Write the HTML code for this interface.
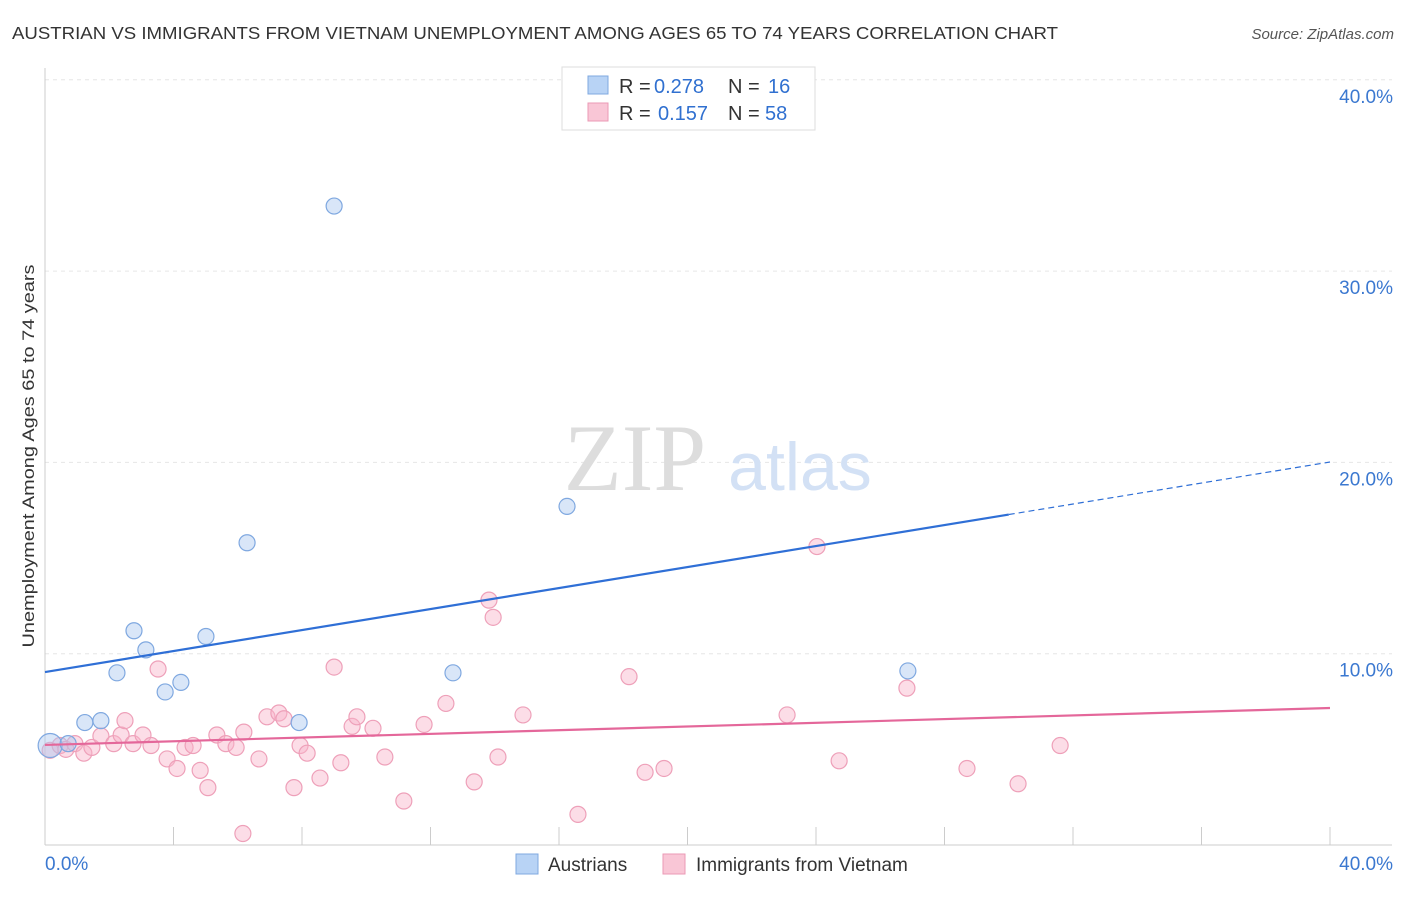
<!DOCTYPE html>
<html><head><meta charset="utf-8"><style>
body{margin:0;background:#fff;font-family:"Liberation Sans",sans-serif;}
</style></head><body>
<svg width="1406" height="892" xmlns="http://www.w3.org/2000/svg">
<text x="12" y="39" font-size="17.5" fill="#333" textLength="1046" lengthAdjust="spacingAndGlyphs">AUSTRIAN VS IMMIGRANTS FROM VIETNAM UNEMPLOYMENT AMONG AGES 65 TO 74 YEARS CORRELATION CHART</text>
<text x="1394" y="39" font-size="15" fill="#555" font-style="italic" text-anchor="end">Source: ZipAtlas.com</text>
<g id="grid"></g>
<text x="635" y="490" font-size="95" fill="#ddd" font-family="Liberation Serif,serif" text-anchor="middle">ZIP</text>
<text x="800" y="490" font-size="68" fill="#d3e1f5" text-anchor="middle">atlas</text>
<text transform="translate(34,456) rotate(-90)" font-size="17" fill="#333" text-anchor="middle" textLength="383" lengthAdjust="spacingAndGlyphs">Unemployment Among Ages 65 to 74 years</text>
<g id="marks"></g>
<g font-size="20">
<rect x="562" y="67" width="253" height="63" fill="#fff" stroke="#ddd"/>
<rect x="588" y="76" width="20" height="18" fill="#b8d3f5" stroke="#7fa8e0"/>
<text x="619" y="93" fill="#333">R =</text><text x="654" y="93" fill="#3070d0">0.278</text>
<text x="728" y="93" fill="#333">N =</text><text x="768" y="93" fill="#3070d0">16</text>
<rect x="588" y="103" width="20" height="18" fill="#f9c6d6" stroke="#eb9ab5"/>
<text x="619" y="120" fill="#333">R =</text><text x="658" y="120" fill="#3070d0">0.157</text>
<text x="728" y="120" fill="#333">N =</text><text x="765" y="120" fill="#3070d0">58</text>
</g>
<g>
<rect x="516" y="854" width="22" height="20" fill="#b8d3f5" stroke="#7fa8e0"/>
<text x="548" y="871" font-size="19" fill="#333">Austrians</text>
<rect x="663" y="854" width="22" height="20" fill="#f9c6d6" stroke="#eb9ab5"/>
<text x="696" y="871" font-size="19" fill="#333">Immigrants from Vietnam</text>
</g>
</svg>
<script>
const yTicks=[10,20,30,40];
const yTickLabels=["10.0%","20.0%","30.0%","40.0%"];
const xLabels=["0.0%","40.0%"];
const blueX=[0.16,0.72,1.24,1.74,2.24,2.77,3.14,3.74,4.23,5.01,6.29,7.91,9.0,12.7,16.25,26.86];
const blueY=[5.2,5.3,6.4,6.5,9.0,11.2,10.2,8.0,8.5,10.9,15.8,6.4,33.4,9.0,17.7,9.1];
const pinkX=[0.16,0.47,0.65,0.93,1.21,1.46,1.74,2.14,2.37,2.49,2.74,3.05,3.3,3.52,3.8,4.11,4.36,4.61,4.83,5.07,5.35,5.63,5.95,6.19,6.16,6.66,6.91,7.28,7.44,7.75,7.94,8.16,8.56,9.0,9.21,9.56,9.71,10.21,10.58,11.17,11.8,12.48,13.36,13.82,13.95,14.1,14.88,16.59,18.18,18.68,19.27,23.1,24.03,24.72,26.83,28.7,30.29,31.6];
const pinkY=[4.95,5.2,5.0,5.3,4.8,5.1,5.7,5.3,5.75,6.5,5.3,5.75,5.2,9.2,4.5,4.0,5.1,5.2,3.9,3.0,5.75,5.3,5.1,5.9,0.6,4.5,6.7,6.9,6.6,3.0,5.2,4.8,3.5,9.3,4.3,6.2,6.7,6.1,4.6,2.3,6.3,7.4,3.3,12.8,11.9,4.6,6.8,1.6,8.8,3.8,4.0,6.8,15.6,4.4,8.2,4.0,3.2,5.2];
const blueFit=[9.04,20.02];
const pinkFit=[5.23,7.16];
const NS="http://www.w3.org/2000/svg";
const X=v=>45+v*32.125, Y=v=>845-v*19.13;
function mk(t,a,p){const e=document.createElementNS(NS,t);for(const k in a)e.setAttribute(k,a[k]);p.appendChild(e);return e;}
const grid=document.getElementById('grid'),marks=document.getElementById('marks');
yTicks.forEach((t,i)=>{
 const l=mk('line',{x1:45,x2:1392,y1:Y(t),y2:Y(t),stroke:'#e6e6e6','stroke-dasharray':'4,4'},grid);
 
 
 const tx=mk('text',{x:1393,y:Y(t)+23,'font-size':19,fill:'#3b78d0','text-anchor':'end'},grid);
 tx.textContent=yTickLabels[i];
 
 
});
const ax=mk('line',{x1:45,x2:1392,y1:845,y2:845,stroke:'#ccc'},grid);


const ay=mk('line',{x1:45,x2:45,y1:68,y2:845,stroke:'#ccc'},grid);


for(let i=1;i<=10;i++){const t=mk('line',{x1:X(i*4),x2:X(i*4),y1:827,y2:845,stroke:'#ccc'},grid);
 
 }
[[xLabels[0],45,'start'],[xLabels[1],1393,'end']].forEach(([s,x,a])=>{const t=mk('text',{x:x,y:870,'font-size':19,fill:'#3b78d0','text-anchor':a},grid);t.textContent=s;
 
 });
pinkX.forEach((x,i)=>{const c=mk('circle',{cx:X(x),cy:Y(pinkY[i]),r:8,fill:'rgba(248,180,202,0.45)',stroke:'#eea0b9','stroke-width':1.2},marks);
 
 });
blueX.forEach((x,i)=>{const c=mk('circle',{cx:X(x),cy:Y(blueY[i]),r:i==0?12:8,fill:'rgba(170,200,240,0.45)',stroke:'#7fa8e0','stroke-width':1.2},marks);
 
 });
const bf=v=>blueFit[0]+(blueFit[1]-blueFit[0])*v/40;
const b1=mk('line',{x1:X(0),y1:Y(bf(0)),x2:X(30),y2:Y(bf(30)),stroke:'#2f6fd6','stroke-width':2.2},marks);


const b2=mk('line',{x1:X(30),y1:Y(bf(30)),x2:X(40),y2:Y(bf(40)),stroke:'#2f6fd6','stroke-width':1.2,'stroke-dasharray':'6,4'},marks);


const p1=mk('line',{x1:X(0),y1:Y(pinkFit[0]),x2:X(40),y2:Y(pinkFit[1]),stroke:'#e4679a','stroke-width':2.2},marks);


</script>
</body></html>
